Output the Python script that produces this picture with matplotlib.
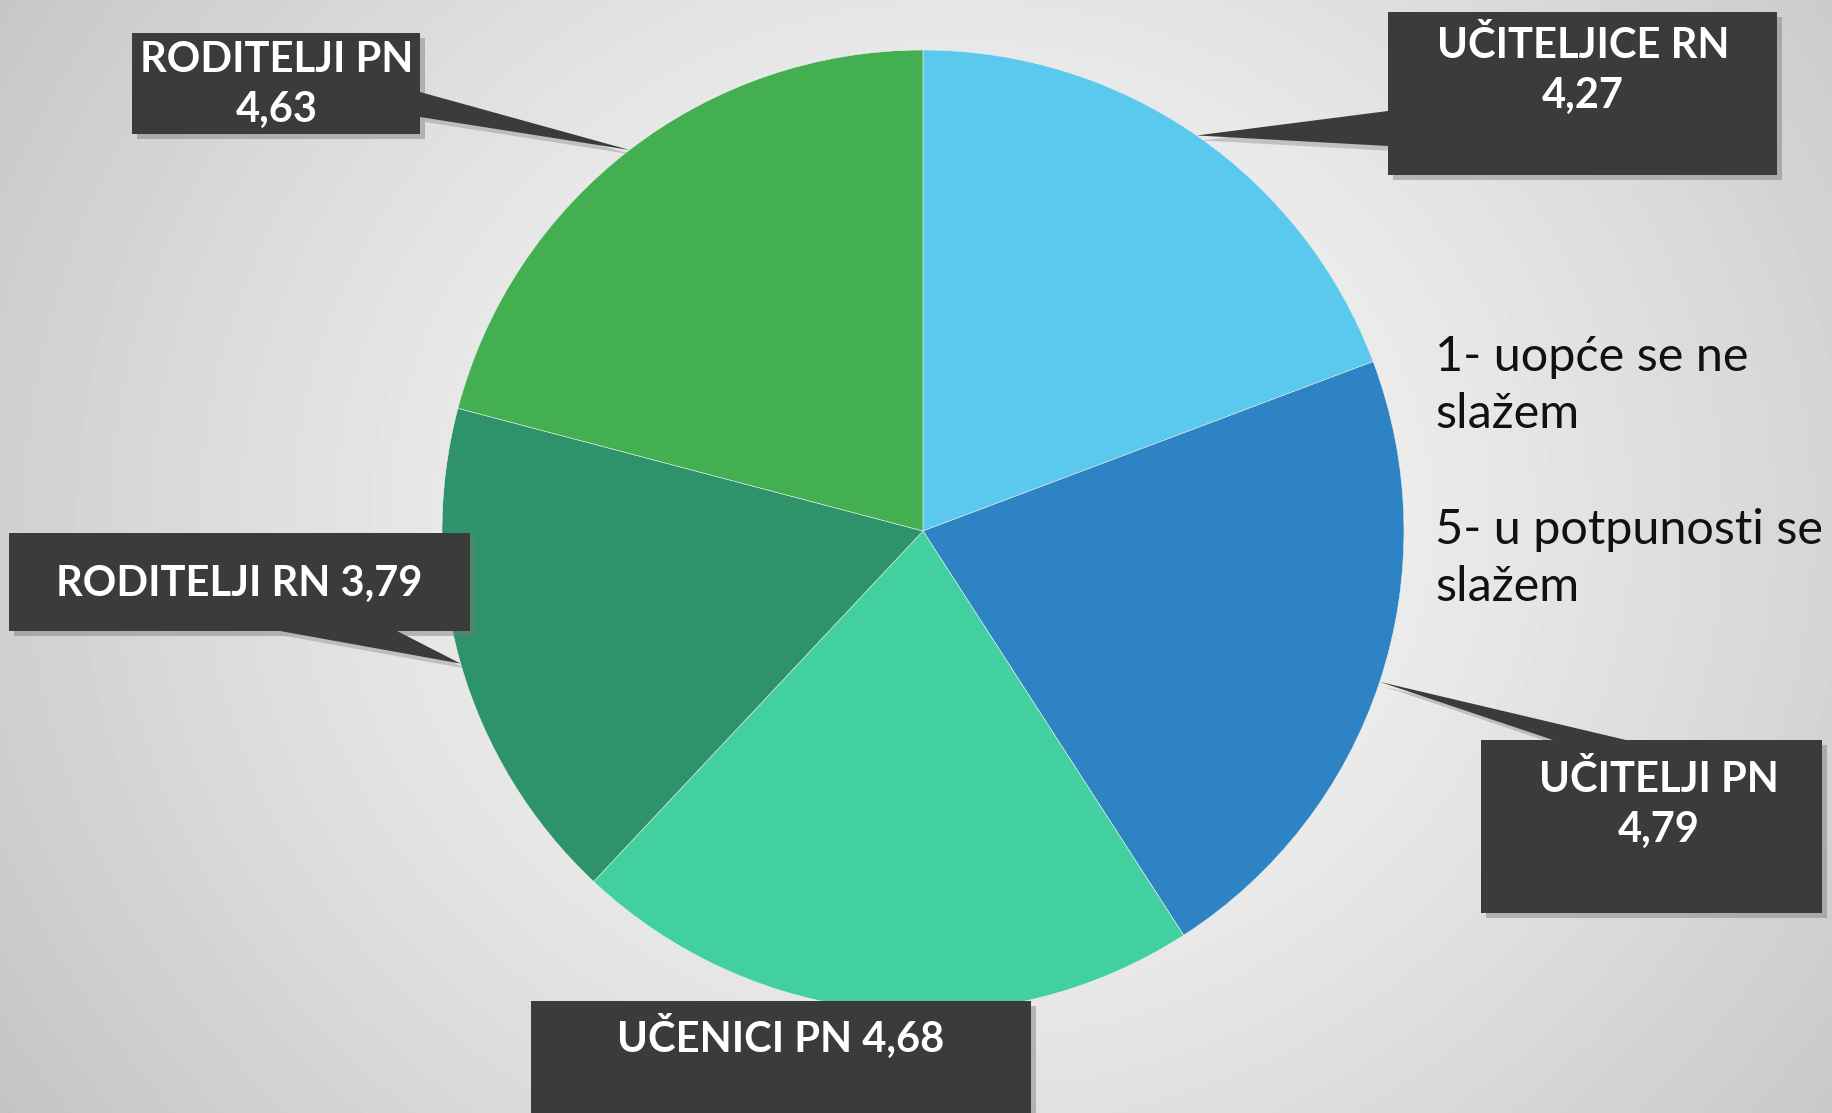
import matplotlib.pyplot as plt
import numpy as np
from matplotlib.patches import Polygon, Rectangle

# podaci
groups = ["UČITELJICE RN", "UČITELJI PN", "UČENICI PN", "RODITELJI RN", "RODITELJI PN"]
scores = [4.27, 4.79, 4.68, 3.79, 4.63]
colors = ["#5BC9EE", "#2E83C4", "#43D0A0", "#2E926A", "#43AF50"]
separators = ["\n", "\n", " ", " ", "\n"]
scale_note = "1- uopće se ne\nslažem\n\n5- u potpunosti se\nslažem"

W, H = 1832, 1113
plt.rcParams["font.family"] = ["Lato", "DejaVu Sans"]
plt.rcParams["hatch.color"] = "#4d4d4d"
plt.rcParams["hatch.linewidth"] = 1.2

# raspored oblačića: (x0, x1, y_top, y_bottom) u pikselima slike
boxes = [
    (1388, 1777, 12, 175),
    (1481, 1822, 740, 913),
    (531, 1031, 1001, 1130),
    (9, 470, 533, 631),
    (132, 420, 33, 134),
]
# dvije točke baze pokazivača
pointer_bases = [
    ((1388, 111), (1388, 146)),
    ((1553, 740), (1626, 740)),
    ((760, 1001), (820, 1001)),
    ((280, 631), (397, 631)),
    ((420, 92), (420, 117)),
]
# središta redaka teksta (x, y prvog retka, razmak)
text_pos = [
    (1583, 46, 50),
    (1659, 780, 50),
    (781, 1036, 50),
    (239, 584, 50),
    (277, 60, 50),
]


def img_y(y):
    return H - y


fig = plt.figure(figsize=(W / 100, H / 100), dpi=100)
ax = fig.add_axes([0, 0, 1, 1])

# pozadina s radijalnim prijelazom
gy, gx = np.mgrid[0:H:4, 0:W:4]
d = np.hypot((gx - 960) / 1.1, gy - 520) / 950
shade = 0.985 - 0.19 * np.clip(d, 0, 1.3) ** 1.3
ax.imshow(shade, cmap="gray", vmin=0, vmax=1, extent=[0, W, 0, H],
          origin="upper", aspect="auto", zorder=0)

cx, cy, r = 923, img_y(531), 481
wedges, _ = ax.pie(scores, colors=colors, startangle=90, counterclock=False,
                   center=(cx, cy), radius=r,
                   wedgeprops=dict(edgecolor="#e8f0ec", linewidth=0.4, zorder=2))

for i, (g, s) in enumerate(zip(groups, scores)):
    w = wedges[i]
    mid = np.deg2rad((w.theta1 + w.theta2) / 2)
    tip = (cx + r * np.cos(mid), cy + r * np.sin(mid))
    x0, x1, yt, yb = boxes[i]
    (bx1, by1), (bx2, by2) = pointer_bases[i]
    tri = [(bx1, img_y(by1)), tip, (bx2, img_y(by2))]

    # sjena
    off = 5
    ax.add_patch(Rectangle((x0 + off, img_y(yb) - off), x1 - x0, yb - yt,
                           facecolor="#7a7a7a", alpha=0.45, edgecolor="none", zorder=4))
    ax.add_patch(Polygon([(p[0] + off, p[1] - off) for p in tri], closed=True,
                         facecolor="#7a7a7a", alpha=0.35, edgecolor="none", zorder=4))
    ax.add_patch(Rectangle((x0, img_y(yb)), x1 - x0, yb - yt, facecolor="#3b3b3b",
                           edgecolor="none", hatch="..", zorder=5))
    ax.add_patch(Polygon(tri, closed=True, facecolor="#3b3b3b", edgecolor="none",
                         hatch="..", zorder=5))

    label = f"{g}{separators[i]}{s:.2f}".replace(".", ",")
    tx, ty, step = text_pos[i]
    for j, line in enumerate(label.split("\n")):
        ax.text(tx, img_y(ty + j * step), line, ha="center", va="center",
                color="white", fontsize=30, fontweight="bold", zorder=6)

ax.text(1435, img_y(472), scale_note, ha="left", va="center", fontsize=35,
        color="#111111", linespacing=1.38, zorder=3)

ax.set_xlim(0, W)
ax.set_ylim(0, H)
ax.set_aspect("auto")
ax.axis("off")

fig.savefig("out.png", dpi=100)
